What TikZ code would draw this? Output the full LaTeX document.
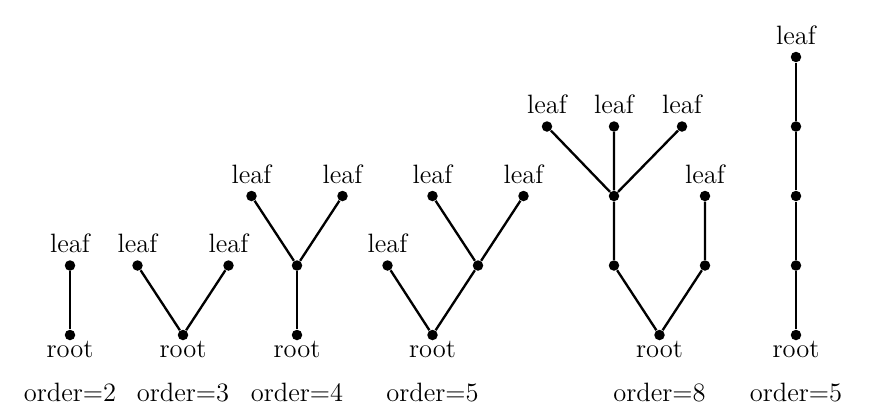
\documentclass[tikz,border=0pt]{standalone}
\begin{document}
\begin{tikzpicture}[x=0.4484pt,y=-0.4484pt,
  every node/.style={font=\fontsize{11.9}{14}\selectfont},
  dot/.style={circle,fill=black,inner sep=0pt,minimum size=10.5*0.4484pt},
  edge/.style={line width=1.05pt},
  lf/.style={dot,label={[label distance=-0.5pt]above:leaf}},
  rt/.style={dot,label={[label distance=-3.5pt]below:root}},
  ord/.style={anchor=base}]
\useasboundingbox (0,0) rectangle (873,416);
% tree 1
\node[lf] (a1) at (70,265.5) {};
\node[rt] (a0) at (70,335) {};
\draw[edge] (a0) -- (a1);
\node[ord] (oa) at (70,401) {order=2};
% tree 2
\node[lf] (b1) at (137.5,265.5) {};
\node[lf] (b2) at (228.5,265.5) {};
\node[rt] (b0) at (183,335) {};
\draw[edge] (b1) -- (b0) -- (b2);
\node[ord] (ob) at (183,401) {order=3};
% tree 3
\node[lf] (c1) at (251.5,196) {};
\node[lf] (c2) at (342.5,196) {};
\node[dot] (cm) at (297,265.5) {};
\node[rt] (c0) at (297,335) {};
\draw[edge] (c1) -- (cm) -- (c2);
\draw[edge] (cm) -- (c0);
\node[ord] (oc) at (297,401) {order=4};
% tree 4
\node[lf] (d1) at (387.5,265.5) {};
\node[lf] (d2) at (432.5,196) {};
\node[lf] (d3) at (523.5,196) {};
\node[dot] (dm) at (478,265.5) {};
\node[rt] (d0) at (432.5,335) {};
\draw[edge] (d2) -- (dm) -- (d3);
\draw[edge] (d1) -- (d0) -- (dm);
\node[ord] (od) at (432.5,401) {order=5};
% tree 5
\node[lf] (e1) at (547,126.5) {};
\node[lf] (e2) at (614,126.5) {};
\node[lf] (e3) at (682,126.5) {};
\node[dot] (em) at (614,196) {};
\node[lf] (e4) at (705,196) {};
\node[dot] (el) at (614,265.5) {};
\node[dot] (er) at (705,265.5) {};
\node[rt] (e0) at (659.5,335) {};
\draw[edge] (e1) -- (em) (e2) -- (em) (e3) -- (em);
\draw[edge] (em) -- (el) -- (e0) -- (er) -- (e4);
\node[ord] (oe) at (659.5,401) {order=8};
% tree 6
\node[lf] (f4) at (796,57) {};
\node[dot] (f3) at (796,126.5) {};
\node[dot] (f2) at (796,196) {};
\node[dot] (f1) at (796,265.5) {};
\node[rt] (f0) at (796,335) {};
\draw[edge] (f0) -- (f1) -- (f2) -- (f3) -- (f4);
\node[ord] (of) at (796,401) {order=5};
\end{tikzpicture}
\end{document}
